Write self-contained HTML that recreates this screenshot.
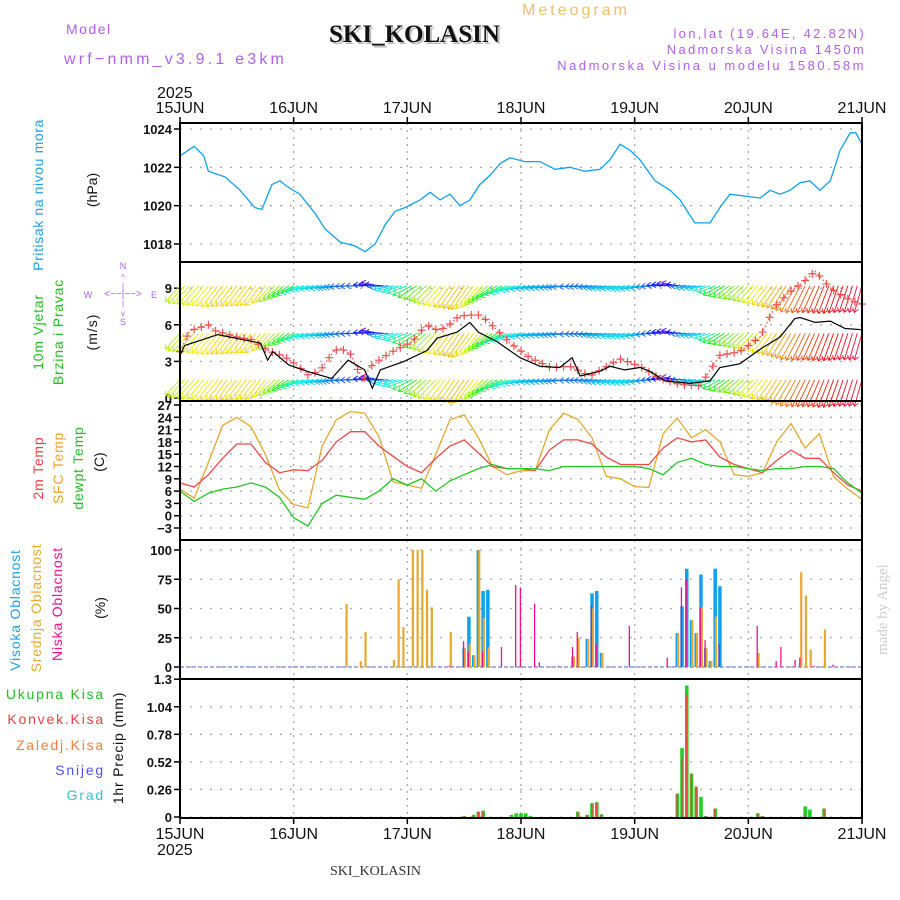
<!DOCTYPE html>
<html><head><meta charset="utf-8">
<style>
html,body{margin:0;padding:0;background:#fff;}
svg{display:block;font-family:"Liberation Sans",sans-serif;}
</style></head>
<body>
<svg id="chart" width="900" height="900" viewBox="0 0 900 900" xmlns="http://www.w3.org/2000/svg">
<rect width="900" height="900" fill="#fff"/>
<text x="522" y="15" font-size="16" fill="#f0c070" letter-spacing="3">Meteogram</text>
<text x="66" y="34" font-size="14" fill="#b060f0" letter-spacing="1.5">Model</text>
<text x="64" y="64" font-size="16" fill="#b060f0" letter-spacing="3.2">wrf−nmm_v3.9.1  e3km</text>
<text x="331" y="44" font-family="Liberation Serif,serif" font-weight="bold" font-size="25" fill="#bbb">SKI_KOLASIN</text>
<text x="329" y="42" font-family="Liberation Serif,serif" font-weight="bold" font-size="25" fill="#111">SKI_KOLASIN</text>
<text x="866" y="38" font-size="13" fill="#b060f0" text-anchor="end" letter-spacing="2.3">lon,lat (19.64E, 42.82N)</text>
<text x="866" y="54" font-size="13" fill="#b060f0" text-anchor="end" letter-spacing="2.3">Nadmorska Visina 1450m</text>
<text x="866" y="70" font-size="13" fill="#b060f0" text-anchor="end" letter-spacing="2.5">Nadmorska Visina u modelu 1580.58m</text>
<text x="157" y="98" font-size="16" fill="#111">2025</text>
<text x="157" y="855" font-size="16" fill="#111">2025</text>
<text x="330" y="875" font-family="Liberation Serif,serif" font-size="14" fill="#333">SKI_KOLASIN</text>
<text transform="translate(887,655) rotate(-90)" font-family="Liberation Serif,serif" font-size="15" fill="#ccc">made by Angel</text>

<text transform="translate(43,195) rotate(-90)" font-size="14" fill="#20a0f0" text-anchor="middle" letter-spacing="0.6">Pritisak na nivou mora</text>
<text transform="translate(97,190) rotate(-90)" font-size="14" fill="#111" text-anchor="middle">(hPa)</text>
<text transform="translate(43,332) rotate(-90)" font-size="14" fill="#20c020" text-anchor="middle" letter-spacing="0.8">10m Vjetar</text>
<text transform="translate(63,332) rotate(-90)" font-size="14" fill="#20c020" text-anchor="middle" letter-spacing="0.8">Brzina i Pravac</text>
<text transform="translate(97,332) rotate(-90)" font-size="14" fill="#111" text-anchor="middle" letter-spacing="1">(m/s)</text>
<g font-size="9" fill="#b060f0" text-anchor="middle">
<text x="123" y="269">N</text><text x="123" y="325">S</text><text x="88" y="298">W</text><text x="154" y="298">E</text>
<text x="123" y="297" font-size="10">&lt;−−|−−&gt;</text>
<text x="123" y="280" font-size="8">^</text><text x="123" y="289" font-size="8">|</text><text x="123" y="306" font-size="8">|</text><text x="123" y="316" font-size="8">v</text>
</g>
<text transform="translate(43,468) rotate(-90)" font-size="14" fill="#f04040" text-anchor="middle" letter-spacing="0.8">2m Temp</text>
<text transform="translate(63,468) rotate(-90)" font-size="14" fill="#f0a030" text-anchor="middle" letter-spacing="0.8">SFC Temp</text>
<text transform="translate(83,468) rotate(-90)" font-size="14" fill="#20c020" text-anchor="middle" letter-spacing="0.8">dewpt Temp</text>
<text transform="translate(104,462) rotate(-90)" font-size="14" fill="#111" text-anchor="middle">(C)</text>
<text transform="translate(20,610) rotate(-90)" font-size="14" fill="#20a0f0" text-anchor="middle" letter-spacing="0.8">Visoka Oblacnost</text>
<text transform="translate(41,608) rotate(-90)" font-size="14" fill="#e8a830" text-anchor="middle" letter-spacing="0.8">Srednja Oblacnost</text>
<text transform="translate(62,604) rotate(-90)" font-size="14" fill="#f0108a" text-anchor="middle" letter-spacing="0.8">Niska Oblacnost</text>
<text transform="translate(105,608) rotate(-90)" font-size="14" fill="#111" text-anchor="middle">(%)</text>
<g font-size="14" text-anchor="end" letter-spacing="1.8">
<text x="105" y="699" fill="#20c020">Ukupna  Kisa</text>
<text x="105" y="724" fill="#f04040">Konvek.Kisa</text>
<text x="105" y="750" fill="#f08040">Zaledj.Kisa</text>
<text x="105" y="775" fill="#5050f0">Snijeg</text>
<text x="105" y="800" fill="#30c8c8">Grad</text>
</g>
<text transform="translate(123,748) rotate(-90)" font-size="14" fill="#111" text-anchor="middle" letter-spacing="0.8">1hr Precip (mm)</text>
<g id="plots"></g>
</svg>
<script>
// ---------- data ----------
const dayLabels = ["15JUN","16JUN","17JUN","18JUN","19JUN","20JUN","21JUN"];
const pressHours = [0,3,5,6,9.5,12.7,15.8,17.3,19.4,21.1,22.6,25.3,28.5,30.6,33.8,36.9,39.1,41.2,43.3,45.4,47.5,50.7,52.8,54.9,57,59.1,61.2,63.3,65.5,67.6,69.7,72.8,76,79.2,82.3,85.5,88.7,90.8,92.9,95,97.1,100.3,103.5,105.6,108.7,111.9,114,116.1,119.3,122.5,124.6,126.7,128.8,130.9,133,135.1,137.3,139.4,141.5,142.7,144];
const pressVals = [1022.6,1023.1,1022.6,1021.8,1021.5,1020.8,1019.9,1019.8,1021.1,1021.3,1021.0,1020.6,1019.6,1018.8,1018.1,1017.9,1017.6,1018.0,1019.0,1019.7,1019.9,1020.3,1020.7,1020.3,1020.6,1020.0,1020.3,1021.1,1021.6,1022.2,1022.5,1022.3,1022.3,1021.9,1022.0,1021.8,1021.9,1022.4,1023.2,1022.9,1022.4,1021.3,1020.8,1020.3,1019.1,1019.1,1019.9,1020.6,1020.5,1020.4,1020.8,1020.6,1020.8,1021.2,1021.3,1020.8,1021.3,1022.9,1023.8,1023.8,1023.2];
const pressTicks = [1018,1020,1022,1024];

const speedHours = [0,1,8,17,18.5,19.6,23,27.6,32,35.5,39,40.6,42.3,47.3,52.2,54.3,58.5,61.2,63,67,71.8,76,80.2,82.8,84.5,88.7,90.8,93.9,97.1,99.2,102.4,107.6,111.9,114,118.2,122.5,126.7,129.8,130.9,134.1,137.3,140.4,144];
const speedVals = [3.5,4.3,5.2,4.5,3.1,3.8,2.7,2.1,1.6,3.1,2.3,0.8,2.3,3,3.9,4.9,5.4,6.2,5.4,4.6,3.3,2.6,2.5,3.3,1.8,2.2,2.6,2.3,2.5,2.2,1.4,1.2,1.4,2.5,2.8,4,5,6.5,6.6,6.2,6.3,5.7,5.6];
const gustHours = [0,2,6,7.5,12,15,18.5,22,25,27,29.5,32.4,33.8,36,37.3,38.7,40,42,44.8,49,51.9,54.7,56.8,58.9,61,63.3,65,69.7,73.9,78.2,82.3,86.6,89.7,92.9,97.1,101.3,105.6,109.8,114,118.2,122.5,125.6,128.8,131.9,134.1,137.3,141.5,144];
const gustVals = [3.8,5.5,6,5.5,5,4.8,3.9,3.4,2.6,1.9,2.2,3.8,4.1,3.6,2.5,1.4,2.5,3.1,3.8,4.6,6,5.5,6,6.7,6.8,6.8,6.3,4.5,3.3,2.5,2.6,1.8,2.5,3.2,2.6,1.6,1.1,1.0,3.5,3.8,5,7.5,8.7,9.6,10.4,9,8,7.7];
// wind direction (deg, from), every 3 hours
const windDir = [43,42,39,37,37,37,37,48,61,75,79,82,87,90,101,79,70,51,43,36,34,39,54,67,76,81,82,84,87,87,82,79,78,82,92,101,82,79,61,51,45,39,34,31,26,23,20,18,16];
const windTicks = [0,3,6,9];

const tempHours = [0,3,6,9,12,15,18,21,24,27,30,33,36,39,42,45,48,51,54,57,60,63,66,69,72,75,78,81,84,87,90,93,96,99,102,105,108,111,114,117,120,123,126,129,132,135,138,141,144];
const t2m = [8,7,10,14,17.5,17.5,13,10.5,11.2,11,13.5,18,20.5,20.5,17,14.5,12,10.5,14,17,18.5,15.3,12,11.5,11.5,11,16,18.5,18.5,17.5,14.3,12.5,12.5,12.5,16.5,19,18,18.5,14.3,12.5,11.5,10.5,13.5,16,14,14,10.5,7.5,6];
const tSfc = [6.5,4.3,13,22,24,21.7,15,6.3,2.7,1.9,17,23.4,25.4,25,19.3,8.3,7.5,6.7,15,23.4,24.6,19,12,10,11,11,20.9,25,23.5,19,9.6,9,7.1,6.9,20,23.8,19,21,18,10,9.6,10.5,18,22.5,16.5,20,9.5,6.5,4];
const tDew = [6,3.5,5.5,6.5,7,8,7,4.5,-0.5,-2.5,3,5,4.5,4,6,9,7.5,9,6,8.5,10,11.5,12.5,11.5,11.5,11.5,11,12,12,12,12,12,12,11.5,10,13,14,12.5,12,12,11.5,11,11.5,11.5,12,12,11.5,8,5.5];
const tempTicks = [-3,0,3,6,9,12,15,18,21,24,27];

const midHours = [35,38,39,45,46,47,49,50,51,52,53,57,60,61,62,63,64,65,83,84,86,87,89,105,108,109,110,111,112,113,122,131,132,133,136];
const midVals = [54,5,30,6,75,34,100,100,100,66,51,30,16,20,10,100,42,17,9,25,24,50,12,29,40,29,51,16,5,43,12,81,61,15,32];
const highHours = [60,61,62,63,64,65,83,86,87,88,89,105,106,107,108,109,110,111,112,113,114];
const highVals = [16,43,10,100,65,66,9,24,63,65,12,29,52,84,40,29,79,16,5,84,69];
const lowHours = [57,60,61,64,68,71,72,75,76,80,83,84,87,88,95,103,106,107,110,111,114,122,126,127,130,131,134,138];
const lowVals = [1,22,13,13,17,70,68,54,4,1,17,30,53,20,35,8,68,75,51,23,20,35,5,17,6,8,1,2];
const cloudTicks = [0,25,50,75,100];

const rainHours = [60,62,63,64,70,71,72,73,74,84,86,87,88,89,105,106,107,108,109,110,111,113,122,123,132,133,136];
const rainTotal = [0.01,0.02,0.05,0.06,0.02,0.035,0.035,0.035,0.01,0.05,0.02,0.13,0.14,0.025,0.22,0.65,1.24,0.41,0.28,0.19,0.01,0.08,0.035,0.01,0.1,0.07,0.08];
const rainConv = [0.01,0.02,0.05,0.05,0,0,0,0,0,0.05,0.02,0.13,0.13,0.025,0.22,0.56,1.15,0.41,0.29,0,0.01,0.08,0.035,0.01,0.02,0,0.08];
const precipTicks = [0,0.26,0.52,0.78,1.04,1.3];

// ---------- helpers ----------
const NS = "http://www.w3.org/2000/svg";
const root = document.getElementById("plots");
const X0 = 180, X1 = 862, HOURS = 144;
const xS = h => X0 + h * (X1 - X0) / HOURS;
function mk(tag, attrs, parent) {
  const e = document.createElementNS(NS, tag);
  for (const k in attrs) e.setAttribute(k, attrs[k]);
  (parent || root).appendChild(e);
  return e;
}
const panels = [
  {top:123, bot:262, y:v => 129 + (1024 - v) * 19.17, ticks:pressTicks, fmt:v=>String(v), name:"pressure"},
  {top:262, bot:401, y:v => 398 - v * 12.2, ticks:windTicks, fmt:v=>String(v), name:"wind"},
  {top:401, bot:540, y:v => 515.7 - v * 4.1, ticks:tempTicks, fmt:v=>v<0?"−"+(-v):String(v), name:"temp"},
  {top:540, bot:679, y:v => 667 - v * 1.17, ticks:cloudTicks, fmt:v=>String(v), name:"cloud"},
  {top:679, bot:818, y:v => 817 - v * 106, ticks:precipTicks, fmt:v=>String(v), name:"precip"}
];
function linePath(hours, vals, yf) {
  return hours.map((h,i)=>(i?"L":"M")+xS(h).toFixed(1)+","+yf(vals[i]).toFixed(1)).join("");
}
function interp(hours, vals, h) {
  for (let i=0;i<hours.length-1;i++) if (h>=hours[i] && h<=hours[i+1]) {
    const t=(h-hours[i])/(hours[i+1]-hours[i]); return vals[i]+t*(vals[i+1]-vals[i]);
  }
  return vals[vals.length-1];
}

// ---------- grids & axes ----------
panels.forEach(p => {
  const g = mk("g", {});
  
  
  for (let d=1; d<6; d++) {
    const x = xS(d*24);
    const l = mk("line", {x1:x, x2:x, y1:p.top, y2:p.bot, stroke:"#aaa", "stroke-width":1.3, "stroke-dasharray":"2,5"}, g);
    
    
  }
  p.ticks.forEach(v => {
    const y = p.y(v);
    const gl = mk("line", {x1:X0, x2:X1, y1:y, y2:y, stroke:"#aaa", "stroke-width":1.3, "stroke-dasharray":"2,8"}, g);
    
    
    mk("line", {x1:X0-6, x2:X0, y1:y, y2:y, stroke:"#000", "stroke-width":1.5}, g);
    const t = mk("text", {x:X0-8, y:y+5, "font-size":13, "font-weight":"bold", "text-anchor":"end", fill:"#111"}, g);
    
    
    t.textContent = p.fmt(v);
  });
});

// ---------- pressure ----------
{
  const p = panels[0];
  const pl = mk("path", {d:linePath(pressHours, pressVals, p.y), fill:"none", stroke:"#10a0f0", "stroke-width":1.3});
  
  
}

// ---------- wind ----------
{
  const p = panels[1];
  const ag = mk("g", {});
  
  
  const rows = [9.2, 5.3, 1.5];
  for (let h=0; h<=144; h++) {
    const i = Math.min(Math.floor(h/3), windDir.length-2);
    const dir = windDir[i] + (windDir[i+1]-windDir[i])*((h-i*3)/3);
    const spd = interp(speedHours, speedVals, h);
    let hue = (dir - 20) * 3.2; if (hue < 0) hue += 360;
    const col = "hsl(" + hue.toFixed(0) + ",90%,50%)";
    const rad = dir * Math.PI/180;
    const dx = -Math.sin(rad), dy = Math.cos(rad);
    const len = 12 + spd * 2.8;
    rows.forEach(r => {
      const x = xS(h), y = p.y(r);
      const x2 = x + dx*len, y2 = y + dy*len;
      const a = mk("path", {d:"M"+x.toFixed(1)+","+y.toFixed(1)+"L"+x2.toFixed(1)+","+y2.toFixed(1)+
        "M"+(x2 + (-dx*4 - dy*3)).toFixed(1)+","+(y2 + (-dy*4 + dx*3)).toFixed(1)+"L"+x2.toFixed(1)+","+y2.toFixed(1)+
        "L"+(x2 + (-dx*4 + dy*3)).toFixed(1)+","+(y2 + (-dy*4 - dx*3)).toFixed(1),
        stroke:col, "stroke-width":0.9, fill:"none"}, ag);
      
      
    });
  }
  const gl = mk("path", {d:linePath(gustHours, gustVals, p.y), fill:"none", stroke:"#f05050", "stroke-width":1, "stroke-dasharray":"2,2"});
  
  
  for (let h=0; h<=144; h+=1.5) {
    const x = xS(h), y = p.y(interp(gustHours, gustVals, h));
    const m = mk("path", {d:"M"+(x-4)+","+y+"h8M"+x+","+(y-4)+"v8", stroke:"#f05050", "stroke-width":1.2});
    
    
  }
  const sl = mk("path", {d:linePath(speedHours, speedVals, p.y), fill:"none", stroke:"#000", "stroke-width":1.2});
  
  
}

// ---------- temperature ----------
{
  const p = panels[2];
  const a = mk("path", {d:linePath(tempHours, tSfc, p.y), fill:"none", stroke:"#e8a830", "stroke-width":1.3});
  
  
  const b = mk("path", {d:linePath(tempHours, t2m, p.y), fill:"none", stroke:"#f04848", "stroke-width":1.3});
  
  
  const c = mk("path", {d:linePath(tempHours, tDew, p.y), fill:"none", stroke:"#20c820", "stroke-width":1.3});
  
  
}

// ---------- clouds ----------
{
  const p = panels[3];
  const base = mk("line", {x1:X0, x2:X1, y1:p.y(0), y2:p.y(0), stroke:"#8899dd", "stroke-width":1.5, "stroke-dasharray":"4,2"});
  
  
  const drawBars = (hours, vals, col, w, off, nm) => hours.forEach((h,i) => {
    const x = xS(h) + off, y = p.y(vals[i]);
    const r = mk("rect", {x:x - w/2, y:y, width:w, height:p.y(0)-y, fill:col});
    
    
  });
  drawBars(highHours, highVals, "#10a0f0", 3.5, 0, 'high-cloud-bar');
  drawBars(midHours, midVals, "#e8a830", 2.2, 0.8, 'mid-cloud-bar');
  drawBars(lowHours, lowVals, "#f0108a", 1.3, -0.6, 'low-cloud-bar');
}

// ---------- precipitation ----------
{
  const p = panels[4];
  rainHours.forEach((h,i) => {
    const x = xS(h), y = p.y(rainTotal[i]);
    const r = mk("rect", {x:x-1.8, y:y, width:3.6, height:p.y(0)-y, fill:"#20d020"});
    
    
    if (rainConv[i] > 0) {
      const yc = p.y(rainConv[i]);
      const c = mk("rect", {x:x-1, y:yc, width:1.6, height:p.y(0)-yc, fill:"#f04848"});
      
      
    }
  });
}

// ---------- frames & time axes ----------
panels.forEach(p => {
  const f = mk("rect", {x:X0, y:p.top, width:X1-X0, height:p.bot-p.top, fill:"none", stroke:"#000", "stroke-width":2});
  
  
});
dayLabels.forEach((lab, d) => {
  const x = xS(d*24);
  mk("line", {x1:x, x2:x, y1:117, y2:123, stroke:"#000", "stroke-width":1.5});
  mk("line", {x1:x, x2:x, y1:818, y2:824, stroke:"#000", "stroke-width":1.5});
  const t = mk("text", {x:x, y:113, "font-size":16, "text-anchor":"middle", fill:"#111"});
  
  
  t.textContent = lab;
  const b = mk("text", {x:x, y:839, "font-size":16, "text-anchor":"middle", fill:"#111"});
  
  
  b.textContent = lab;
});
</script>
</body></html>
